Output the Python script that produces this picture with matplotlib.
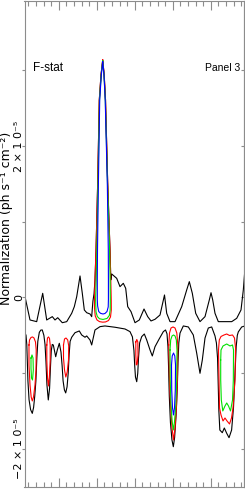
import numpy as np
import matplotlib
matplotlib.use("Agg")
import matplotlib.pyplot as plt

# energy (keV) and normalization (units of 1e-5 ph s^-1 cm^-2)
upper_e = [1.113, 1.245, 1.421, 1.579, 1.684, 1.832, 1.903, 1.974, 2.095, 2.211,
           2.342, 2.411, 2.474, 2.561, 2.621, 2.674, 2.737, 2.824, 2.868, 2.900,
           2.930, 2.955, 2.982, 3.026, 3.068, 3.113, 3.158, 3.197, 3.232, 3.289, 3.350,
           3.371, 3.395, 3.526, 3.613, 3.700, 3.763, 3.816, 3.903, 4.008, 4.121,
           4.245, 4.342, 4.429, 4.534, 4.666, 4.784, 4.842, 4.929, 5.061, 5.237,
           5.368, 5.437, 5.516, 5.605, 5.718, 5.850, 5.963, 6.008, 6.053, 6.113,
           6.200, 6.553, 6.684, 6.797, 6.858, 6.903]
upper_n = [0.011, -0.297, -0.319, 0.055, -0.297, -0.253, -0.297, -0.267, -0.333, -0.319,
           -0.209, -0.121, 0.011, 0.284, 0.055, -0.165, -0.201, -0.218, -0.253, -0.050,
           0.050, 0.231, 0.627, 1.512, 2.607, 2.937, 3.135, 2.937, 2.607, 1.512, 0.627,
           0.231, 0.310, 0.253, 0.143, 0.187, 0.121, -0.121, -0.187, -0.333, -0.297,
           -0.152, -0.253, -0.310, -0.288, -0.231, 0.033, -0.209, -0.319, -0.319, -0.121,
           0.099, 0.209, 0.055, -0.209, -0.319, -0.253, -0.033, 0.063, -0.033, -0.209,
           -0.319, -0.319, -0.275, -0.165, 0.099, 0.389]

lower_e = [1.113, 1.140, 1.160, 1.175, 1.190, 1.220, 1.260, 1.305, 1.340, 1.370,
           1.400, 1.425, 1.450, 1.490, 1.530, 1.568, 1.610, 1.640, 1.665, 1.690,
           1.726, 1.760, 1.785, 1.805, 1.830, 1.858, 1.921, 1.963, 2.016, 2.060,
           2.090, 2.115, 2.150, 2.184, 2.220, 2.250, 2.275, 2.300, 2.342, 2.429,
           2.542, 2.605, 2.692, 2.737, 2.824, 2.868, 2.955, 3.087, 3.218, 3.482,
           3.745, 3.876, 3.940, 3.980, 4.000, 4.020, 4.053, 4.080, 4.100, 4.130,
           4.184, 4.253, 4.316, 4.403, 4.463, 4.534, 4.639, 4.753, 4.811, 4.850,
           4.875, 4.890, 4.910, 4.940, 4.980, 5.016, 5.050, 5.090, 5.120, 5.140,
           5.160, 5.192, 5.279, 5.411, 5.542, 5.632, 5.718, 5.779, 5.850, 5.937,
           6.026, 6.113, 6.150, 6.180, 6.195, 6.215, 6.240, 6.305, 6.358, 6.421,
           6.482, 6.550, 6.600, 6.640, 6.670, 6.700, 6.726, 6.816, 6.903]
lower_n = [-0.465, -0.500, -0.620, -0.850, -1.100, -1.350, -1.480, -1.530, -1.450, -1.300,
           -1.100, -0.800, -0.580, -0.460, -0.430, -0.429, -0.500, -0.620, -0.850, -1.150,
           -1.353, -1.200, -0.900, -0.700, -0.620, -0.627, -0.782, -0.693, -0.605, -0.720,
           -0.900, -1.100, -1.220, -1.260, -1.180, -1.000, -0.750, -0.580, -0.525, -0.465,
           -0.442, -0.495, -0.525, -0.508, -0.561, -0.627, -0.429, -0.385, -0.376, -0.393,
           -0.416, -0.451, -0.520, -0.700, -0.900, -1.050, -1.112, -1.000, -0.800, -0.600,
           -0.517, -0.482, -0.561, -0.693, -0.772, -0.650, -0.552, -0.451, -0.429, -0.480,
           -0.650, -0.900, -1.300, -1.650, -1.880, -1.970, -1.850, -1.550, -1.200, -0.850,
           -0.600, -0.470, -0.376, -0.389, -0.495, -0.737, -1.001, -0.825, -0.535, -0.403,
           -0.389, -0.508, -0.600, -0.800, -1.100, -1.500, -1.750, -1.785, -1.723, -1.793,
           -1.851, -1.750, -1.450, -1.000, -0.650, -0.500, -0.455, -0.389, -0.376]

# confidence contours (closed loops), red / green / blue
red_loops = [
    ([3.158, 3.113, 3.068, 3.026, 2.982, 2.955, 2.942, 2.942, 2.961, 3.008, 3.074, 3.158,
      3.232, 3.311, 3.363, 3.384, 3.382, 3.371, 3.350, 3.289, 3.232, 3.197, 3.158],
     [3.135, 2.937, 2.607, 1.512, 0.627, 0.231, -0.033, -0.139, -0.244, -0.297, -0.319, -0.326,
      -0.323, -0.304, -0.257, -0.165, -0.033, 0.231, 0.627, 1.512, 2.607, 2.937, 3.135]),
    ([1.218, 1.232, 1.271, 1.311, 1.350, 1.389, 1.408, 1.403, 1.376, 1.337, 1.305, 1.276, 1.245, 1.218, 1.218],
     [-0.627, -0.561, -0.528, -0.521, -0.535, -0.587, -0.693, -0.957, -1.155, -1.314, -1.366, -1.314, -1.155, -0.891, -0.627]),
    ([1.687, 1.705, 1.732, 1.758, 1.776, 1.776, 1.758, 1.732, 1.705, 1.687, 1.687],
     [-0.627, -0.535, -0.521, -0.541, -0.627, -0.825, -1.023, -1.168, -1.063, -0.825, -0.627]),
    ([2.126, 2.153, 2.192, 2.237, 2.263, 2.258, 2.224, 2.187, 2.153, 2.126, 2.126],
     [-0.627, -0.548, -0.535, -0.561, -0.640, -0.825, -0.983, -1.050, -0.957, -0.799, -0.627]),
    ([4.029, 4.055, 4.082, 4.087, 4.066, 4.042, 4.029, 4.029],
     [-0.587, -0.554, -0.587, -0.759, -0.878, -0.891, -0.759, -0.587]),
    ([4.897, 4.916, 4.955, 5.008, 5.061, 5.108, 5.134, 5.126, 5.100, 5.061, 5.021, 4.982, 4.942, 4.911, 4.897],
     [-0.627, -0.469, -0.403, -0.389, -0.403, -0.469, -0.627, -1.023, -1.419, -1.723, -1.881, -1.723, -1.419, -1.023, -0.627]),
    ([6.205, 6.226, 6.271, 6.350, 6.421, 6.495, 6.574, 6.626, 6.653, 6.639, 6.587, 6.547, 6.495,
      6.429, 6.376, 6.324, 6.271, 6.232, 6.218, 6.205],
     [-0.693, -0.561, -0.515, -0.495, -0.482, -0.502, -0.495, -0.535, -0.667, -1.089, -1.459, -1.591, -1.670,
      -1.630, -1.591, -1.630, -1.551, -1.459, -1.089, -0.693]),
]
green_loops = [
    ([3.158, 3.118, 3.074, 3.034, 3.003, 2.987, 2.971, 2.982, 3.016, 3.074, 3.166,
      3.271, 3.332, 3.355, 3.358, 3.353, 3.339, 3.284, 3.226, 3.192, 3.158],
     [3.122, 2.937, 2.607, 1.512, 0.627, 0.231, -0.033, -0.191, -0.251, -0.281, -0.290,
      -0.277, -0.238, -0.165, -0.033, 0.231, 0.627, 1.512, 2.607, 2.937, 3.122]),
    ([1.271, 1.297, 1.324, 1.332, 1.311, 1.284, 1.271, 1.271],
     [-0.799, -0.759, -0.799, -0.957, -1.089, -1.063, -0.931, -0.799]),
    ([4.929, 4.947, 4.982, 5.021, 5.061, 5.095, 5.113, 5.105, 5.082, 5.047, 5.016, 4.987, 4.955, 4.934, 4.929],
     [-0.693, -0.561, -0.508, -0.495, -0.508, -0.561, -0.693, -1.089, -1.419, -1.644, -1.749, -1.644, -1.419, -1.089, -0.693]),
    ([6.263, 6.271, 6.324, 6.421, 6.508, 6.574, 6.600, 6.595, 6.574, 6.521, 6.468, 6.421,
      6.376, 6.318, 6.279, 6.263, 6.263],
     [-0.825, -0.693, -0.640, -0.614, -0.640, -0.627, -0.693, -1.089, -1.353, -1.498, -1.432, -1.393,
      -1.432, -1.498, -1.353, -1.089, -0.825]),
]
blue_loops = [
    ([3.158, 3.121, 3.079, 3.045, 3.021, 3.016, 3.016, 3.024, 3.053, 3.100, 3.166,
      3.218, 3.271, 3.303, 3.308, 3.308, 3.305, 3.279, 3.224, 3.192, 3.158],
     [3.109, 2.937, 2.607, 1.512, 0.627, 0.231, -0.033, -0.112, -0.185, -0.209, -0.218,
      -0.211, -0.185, -0.125, -0.033, 0.231, 0.627, 1.512, 2.607, 2.937, 3.109]),
    ([4.968, 4.987, 5.021, 5.055, 5.074, 5.068, 5.047, 5.021, 4.995, 4.974, 4.968],
     [-0.891, -0.772, -0.733, -0.772, -0.891, -1.221, -1.459, -1.551, -1.459, -1.221, -0.891]),
]

ytick_vals = [-2, -1, 0, 1, 2, 3]
ytick_text = ["\u22122 \u00d7 1 0\u207b\u2075", "", "0", "", "2 \u00d7 1 0\u207b\u2075", ""]

fig = plt.figure(figsize=(2.45, 4.91), dpi=100)
ax = fig.add_axes([24.5 / 245, 4 / 491, 219.5 / 245, 486 / 491])

ax.plot(upper_e, upper_n, color="black", lw=0.8)
ax.plot(lower_e, lower_n, color="black", lw=0.8)
for loops, col in [(red_loops, "red"), (green_loops, "#00e000"), (blue_loops, "blue")]:
    for xs, ys in loops:
        ax.plot(xs, ys, color=col, lw=0.8)

ax.set_xlim(1.100, 6.876)
ax.set_ylim(-2.502, 3.914)

axis_grey = "#8c8c8c"
for sp in ax.spines.values():
    sp.set_color(axis_grey)
    sp.set_linewidth(0.8)

ax.set_xticks([2, 3, 4, 5, 6])
ax.set_xticks(np.arange(1.2, 6.9, 0.2), minor=True)
ax.tick_params(axis="x", which="both", direction="in", top=True, bottom=True,
               labelbottom=False, color=axis_grey, width=0.8)
ax.tick_params(axis="x", which="major", length=6.5)
ax.tick_params(axis="x", which="minor", length=3.6)

ax.set_yticks(ytick_vals)
ax.set_yticklabels(ytick_text)
ax.tick_params(axis="y", which="major", direction="out", length=2.5, width=0.8,
               color=axis_grey, pad=-2.5, labelsize=8)
for lbl in ax.get_yticklabels():
    lbl.set_rotation(90)
    lbl.set_va("center")
    lbl.set_ha("right")

right = ax.secondary_yaxis("right")
right.set_yticks(ytick_vals)
right.tick_params(direction="in", length=2.5, width=0.8, color=axis_grey, labelright=False)
right.spines["right"].set_color(axis_grey)

ax.set_ylabel("Normalization (ph s\u207b\u00b9 cm\u207b\u00b2)", fontsize=9)
ax.yaxis.set_label_coords(-0.053, 0.552)

ax.text(0.039, 0.862, "F-stat", transform=ax.transAxes, fontsize=8.5,
        family=["Liberation Sans", "DejaVu Sans"], va="center", ha="left")
ax.text(0.982, 0.862, "Panel 3", transform=ax.transAxes, fontsize=7.5,
        family=["Liberation Sans", "DejaVu Sans"], va="center", ha="right")

plt.savefig("out.png", dpi=100)
